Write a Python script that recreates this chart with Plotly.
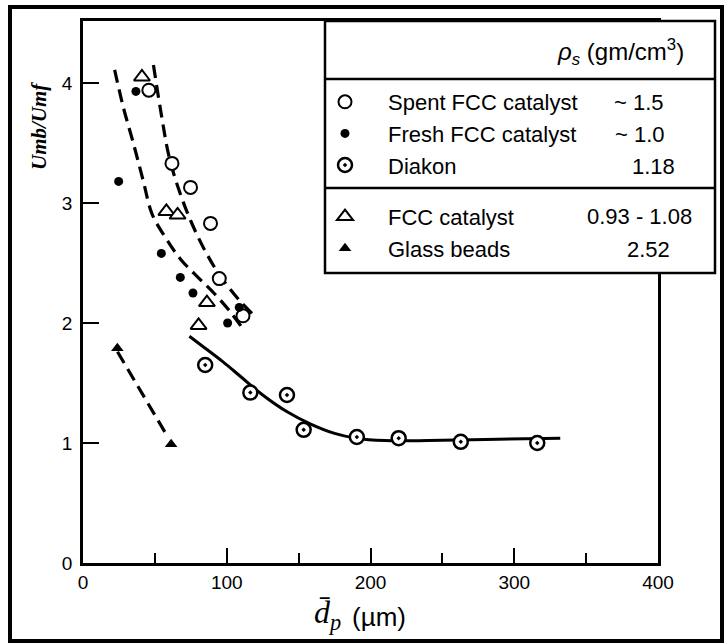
import plotly.graph_objects as go

W, H = 728, 644

# ---------------- data ----------------
spent_x = [45.8, 61.9, 74.8, 88.7, 94.8, 111.3]
spent_y = [3.94, 3.33, 3.13, 2.83, 2.37, 2.06]

fresh_x = [36.8, 24.8, 54.5, 67.7, 76.5, 100.6, 108.7]
fresh_y = [3.93, 3.18, 2.58, 2.38, 2.25, 2.00, 2.13]

diakon_x = [85.0, 116.4, 141.9, 153.5, 190.5, 219.6, 262.8, 316.0]
diakon_y = [1.65, 1.42, 1.40, 1.11, 1.05, 1.04, 1.01, 1.00]

fcc_x = [41.0, 58.0, 65.8, 86.2, 80.4]
fcc_y = [4.05, 2.93, 2.90, 2.17, 1.98]

glass_x = [23.9, 61.3]
glass_y = [1.79, 0.99]

# fitted curves drawn in the figure
spent_fit_x = [49, 55, 60, 67, 75, 85, 95, 108, 121]
spent_fit_y = [4.15, 3.70, 3.38, 3.10, 2.85, 2.60, 2.40, 2.20, 2.04]

fresh_fit_x = [22, 28, 35, 42, 48, 58, 68, 80, 91, 102, 112]
fresh_fit_y = [4.11, 3.80, 3.50, 3.18, 2.91, 2.70, 2.53, 2.38, 2.25, 2.10, 1.94]

glass_fit_x = [24, 59]
glass_fit_y = [1.76, 1.05]

diakon_fit_x = [74, 85, 97, 110, 125, 142, 158, 175, 190, 210, 240, 280, 332]
diakon_fit_y = [1.89, 1.79, 1.68, 1.55, 1.40, 1.26, 1.16, 1.08, 1.04, 1.02, 1.02, 1.03, 1.04]

series_names = ["Spent FCC catalyst", "Fresh FCC catalyst", "Diakon",
                "FCC catalyst", "Glass beads"]
densities = ["~ 1.5", "~ 1.0", "1.18", "0.93 - 1.08", "2.52"]

x_ticks = [0, 100, 200, 300, 400]
y_ticks = [0, 1, 2, 3, 4]

# ---------------- layout geometry (pixels) ----------------
PL, PR, PT, PB = 83, 658, 21, 563
Y_TOP = (PB - PT) / 120.0  # 120 px per unit

def px(x):
    return x / W

def py(y):
    return 1 - y / H

SANS = "Liberation Sans, Arial, Helvetica, sans-serif"
SERIF = "Liberation Serif, Times New Roman, serif"

fig = go.Figure()

dash_style = dict(color="black", width=3.2, dash="13px,7px")

fig.add_trace(go.Scatter(x=spent_fit_x, y=spent_fit_y, mode="lines", line_shape="spline",
                         line=dash_style, showlegend=False, hoverinfo="skip"))
fig.add_trace(go.Scatter(x=fresh_fit_x, y=fresh_fit_y, mode="lines", line_shape="spline",
                         line=dash_style, showlegend=False, hoverinfo="skip"))
fig.add_trace(go.Scatter(x=glass_fit_x, y=glass_fit_y, mode="lines",
                         line=dash_style, showlegend=False, hoverinfo="skip"))
fig.add_trace(go.Scatter(x=diakon_fit_x, y=diakon_fit_y, mode="lines", line_shape="spline",
                         line=dict(color="black", width=3), showlegend=False, hoverinfo="skip"))

fig.add_trace(go.Scatter(x=spent_x, y=spent_y, mode="markers", name=series_names[0],
                         legendgroup="g1",
                         marker=dict(symbol="circle", size=13, color="white",
                                     line=dict(color="black", width=2))))
fig.add_trace(go.Scatter(x=fresh_x, y=fresh_y, mode="markers", name=series_names[1],
                         legendgroup="g1",
                         marker=dict(symbol="circle", size=9, color="black")))
fig.add_trace(go.Scatter(x=diakon_x, y=diakon_y, mode="markers", name=series_names[2],
                         legendgroup="g1",
                         marker=dict(symbol="circle-dot", size=14, color="white",
                                     line=dict(color="black", width=2.5))))
fig.add_trace(go.Scatter(x=fcc_x, y=fcc_y, mode="markers", name=series_names[3],
                         legendgroup="g2",
                         marker=dict(symbol="triangle-up", size=14, color="white",
                                     line=dict(color="black", width=2))))
fig.add_trace(go.Scatter(x=glass_x, y=glass_y, mode="markers", name=series_names[4],
                         legendgroup="g2",
                         marker=dict(symbol="triangle-up", size=11, color="black")))

shapes = [
    # legend box
    dict(type="rect", xref="paper", yref="paper", x0=px(325), x1=px(715),
         y0=py(273), y1=py(21), line=dict(color="black", width=2.5),
         fillcolor="white", layer="above"),
    dict(type="line", xref="paper", yref="paper", x0=px(325), x1=px(715),
         y0=py(79), y1=py(79), line=dict(color="black", width=2.5), layer="above"),
    dict(type="line", xref="paper", yref="paper", x0=px(325), x1=px(715),
         y0=py(188), y1=py(188), line=dict(color="black", width=2.5), layer="above"),
    # outer border of the picture
    dict(type="rect", xref="paper", yref="paper", x0=px(10), x1=px(722),
         y0=py(641), y1=py(7), line=dict(color="black", width=4), layer="above"),
]

row_y = [102, 134, 166, 217, 249]
dens_right = [666, 667, 677, 694, 672]
annotations = []
for d, yy, xr in zip(densities, row_y, dens_right):
    annotations.append(dict(text=d, x=px(xr), y=py(yy), xref="paper", yref="paper",
                            xanchor="right", yanchor="middle", showarrow=False,
                            font=dict(family=SANS, size=22, color="black")))
annotations.append(dict(text="<i>ρ</i><sub><i>s</i></sub> (gm/cm<sup>3</sup>)",
                        x=px(686), y=py(52), xref="paper", yref="paper",
                        xanchor="right", yanchor="middle", showarrow=False,
                        font=dict(family=SANS, size=24, color="black")))
annotations.append(dict(text="<i>Umb/Umf</i>", x=px(39), y=py(126), xref="paper", yref="paper",
                        xanchor="center", yanchor="middle", showarrow=False, textangle=-90,
                        font=dict(family=SERIF, size=21, color="black", weight="bold")))
annotations.append(dict(text="<i>d\u0304</i><sub><i>p</i></sub>", x=px(343), y=py(614),
                        xref="paper", yref="paper", xanchor="right", yanchor="middle",
                        showarrow=False, font=dict(family=SERIF, size=32, color="black")))
annotations.append(dict(text="(µm)", x=px(350), y=py(617), xref="paper", yref="paper",
                        xanchor="left", yanchor="middle", showarrow=False,
                        font=dict(family=SANS, size=26, color="black")))

fig.update_layout(
    width=W, height=H,
    margin=dict(l=0, r=0, t=0, b=0, autoexpand=False),
    paper_bgcolor="white", plot_bgcolor="white",
    showlegend=True,
    legend=dict(x=px(302), y=py(81), xanchor="left", yanchor="top",
                bgcolor="rgba(0,0,0,0)", borderwidth=0,
                font=dict(family=SANS, size=22, color="black"),
                traceorder="grouped", tracegroupgap=20, itemsizing="trace",
                itemwidth=76),
    xaxis=dict(domain=[px(PL), px(PR)], range=[0, 400], tickvals=x_ticks,
               ticks="inside", ticklen=15, tickwidth=2, tickcolor="black",
               minor=dict(dtick=50, ticks="inside", ticklen=10, tickwidth=2, tickcolor="black"),
               showline=True, linewidth=2.5, linecolor="black", mirror=True,
               showgrid=False, zeroline=False, ticklabelstandoff=0,
               tickfont=dict(family=SANS, size=19, color="black")),
    yaxis=dict(domain=[py(PB), py(PT)], range=[0, Y_TOP], tickvals=y_ticks,
               ticks="inside", ticklen=16, tickwidth=2, tickcolor="black",
               showline=True, linewidth=2.5, linecolor="black", mirror=True,
               showgrid=False, zeroline=False, ticklabelstandoff=4,
               tickfont=dict(family=SANS, size=19, color="black")),
    shapes=shapes,
    annotations=annotations,
)

fig.write_html("out.html")
